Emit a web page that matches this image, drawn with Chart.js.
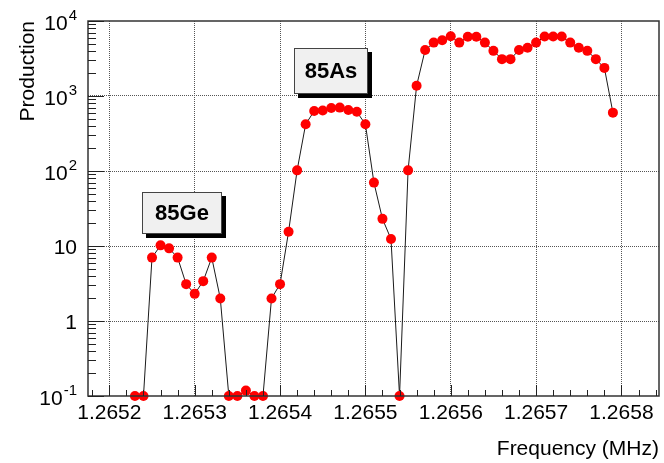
<!DOCTYPE html>
<html>
<head>
<meta charset="utf-8">
<title>Production vs Frequency</title>
<script src="https://cdn.jsdelivr.net/npm/chart.js@4.4.1/dist/chart.umd.min.js"></script>
<style>
  html, body { margin: 0; padding: 0; background: #ffffff; }
  #wrap { position: relative; width: 664px; height: 463px; }
</style>
</head>
<body>
<div id="wrap"><canvas id="chart" width="664" height="463"></canvas></div>
<script>
// Scanned frequencies (MHz), one per measurement step
const frequencies = [
  1.26523, 1.26524, 1.26525, 1.26526, 1.26527, 1.26528, 1.26529, 1.26530,
  1.26531, 1.26532, 1.26533, 1.26534, 1.26535, 1.26536, 1.26537, 1.26538,
  1.26539, 1.26540, 1.26541, 1.26542, 1.26543, 1.26544, 1.26545, 1.26546,
  1.26547, 1.26548, 1.26549, 1.26550, 1.26551, 1.26552, 1.26553, 1.26554,
  1.26555, 1.26556, 1.26557, 1.26558, 1.26559, 1.26560, 1.26561, 1.26562,
  1.26563, 1.26564, 1.26565, 1.26566, 1.26567, 1.26568, 1.26569, 1.26570,
  1.26571, 1.26572, 1.26573, 1.26574, 1.26575, 1.26576, 1.26577, 1.26578,
  1.26579
];

// Measured production at each frequency
const production = [
  0.1, 0.1, 7, 10.2, 9.3, 7, 3.1, 2.3,
  3.4, 7, 2.0, 0.1, 0.1, 0.118, 0.1, 0.1,
  2.0, 3.1, 15.5, 102, 420, 630, 640, 690,
  700, 650, 615, 420, 70, 23, 12.4, 0.1,
  102, 1370, 4100, 5150, 5550, 6250, 5150, 6150,
  6150, 5150, 4000, 3100, 3100, 4100, 4400, 5150,
  6200, 6200, 6200, 5150, 4400, 4000, 3100, 2370,
  600
];

// Axis ticks and their labels
const xMajorTicks = [1.2652, 1.2653, 1.2654, 1.2655, 1.2656, 1.2657, 1.2658];
const xTickLabels = ['1.2652', '1.2653', '1.2654', '1.2655', '1.2656', '1.2657', '1.2658'];
const yMajorTicks = [0.1, 1, 10, 100, 1000, 10000];
const yTickBases = ['10', '1', '10', '10', '10', '10'];
const yTickExponents = ['-1', '', '', '2', '3', '4'];

// Isotope tags
const isotopeNames = ['85Ge', '85As'];

const FONT = "'Liberation Sans', Arial, Helvetica, sans-serif";
const X_MIN = 1.265175, X_MAX = 1.265844;
const X_MINOR_STEP = 0.00002;

function near(a, b, eps) { return Math.abs(a - b) < eps; }

// x ticks every 0.00002 MHz, majors every 0.0001
function buildXTicks() {
  const out = [];
  const first = Math.ceil(X_MIN / X_MINOR_STEP - 1e-6);
  const last = Math.floor(X_MAX / X_MINOR_STEP + 1e-6);
  for (let k = first; k <= last; k++) {
    const v = +(k * X_MINOR_STEP).toFixed(6);
    out.push({ value: v, major: xMajorTicks.some(m => near(m, v, 1e-9)) });
  }
  return out;
}

// log ticks: 1..9 times each decade
function buildYTicks() {
  const out = [];
  for (let d = 0; d < yMajorTicks.length; d++) {
    const dec = yMajorTicks[d];
    out.push({ value: dec, major: true });
    if (d < yMajorTicks.length - 1) {
      for (let m = 2; m <= 9; m++) out.push({ value: +(dec * m).toPrecision(6), major: false });
    }
  }
  return out;
}

const frameAndLabels = {
  id: 'frameAndLabels',
  afterDatasetsDraw(chart, args, opts) {
    const { ctx, chartArea: a, scales } = chart;
    const xs = scales.x, ys = scales.y;
    ctx.save();

    // frame: axes plus top/right border
    ctx.strokeStyle = '#333';
    ctx.lineWidth = 1.5;
    ctx.beginPath();
    ctx.moveTo(a.left, a.top); ctx.lineTo(a.right, a.top);
    ctx.lineTo(a.right, a.bottom); ctx.lineTo(a.left, a.bottom);
    ctx.closePath();
    ctx.stroke();

    // inward tick marks
    ctx.lineWidth = 1;
    ctx.strokeStyle = '#222';
    ctx.beginPath();
    ys.ticks.forEach(t => {
      const y = Math.round(ys.getPixelForValue(t.value)) + 0.5;
      const len = t.major ? 16 : 8;
      ctx.moveTo(a.left, y); ctx.lineTo(a.left + len, y);
    });
    xs.ticks.forEach(t => {
      const x = Math.round(xs.getPixelForValue(t.value)) + 0.5;
      const len = t.major ? 11 : 6;
      ctx.moveTo(x, a.bottom); ctx.lineTo(x, a.bottom - len);
    });
    ctx.stroke();

    // y labels: powers of ten with raised exponents
    const xRight = a.left - 11;
    ctx.fillStyle = '#000';
    yMajorTicks.forEach((v, i) => {
      const y = ys.getPixelForValue(v);
      const base = yTickBases[i], exp = yTickExponents[i];
      if (!exp) {
        ctx.font = '21px ' + FONT;
        ctx.textAlign = 'right';
        ctx.textBaseline = 'alphabetic';
        ctx.fillText(base, xRight, y + 7.5);
      } else {
        ctx.font = '15px ' + FONT;
        const ew = ctx.measureText(exp).width;
        ctx.textAlign = 'right';
        ctx.textBaseline = 'alphabetic';
        ctx.fillText(exp, xRight, y - 1);
        ctx.font = '21px ' + FONT;
        ctx.fillText(base, xRight - ew - 1, y + 9);
      }
    });

    // isotope tags
    opts.tags.forEach((tag, i) => {
      const cx = xs.getPixelForValue(tag.x);
      const cy = ys.getPixelForValue(tag.y);
      const l = Math.round(cx - tag.w / 2), t = Math.round(cy - tag.h / 2);
      ctx.fillStyle = '#000';
      ctx.fillRect(l + 4, t + 4, tag.w, tag.h);
      ctx.fillStyle = '#f0f0f0';
      ctx.fillRect(l, t, tag.w, tag.h);
      ctx.strokeStyle = '#444';
      ctx.lineWidth = 1;
      ctx.strokeRect(l + 0.5, t + 0.5, tag.w - 1, tag.h - 1);
      ctx.fillStyle = '#000';
      ctx.font = 'bold 22px ' + FONT;
      ctx.textAlign = 'center';
      ctx.textBaseline = 'middle';
      ctx.fillText(isotopeNames[i], l + tag.w / 2, t + tag.h / 2 + 1);
    });
    ctx.restore();
  }
};

const points = frequencies.map((f, i) => ({ x: f, y: production[i] }));

new Chart(document.getElementById('chart'), {
  type: 'line',
  data: {
    datasets: [{
      data: points,
      borderColor: '#1a1a1a',
      borderWidth: 1,
      pointRadius: 5,
      pointHoverRadius: 5,
      pointBackgroundColor: '#ff0000',
      pointBorderColor: '#ff0000',
      pointBorderWidth: 0,
      tension: 0,
      fill: false,
      clip: false
    }]
  },
  options: {
    responsive: false,
    animation: false,
    devicePixelRatio: 1,
    events: [],
    layout: { padding: { top: 21, right: 2, left: 0, bottom: 0 } },
    plugins: {
      legend: { display: false },
      tooltip: { enabled: false },
      frameAndLabels: {
        tags: [
          { x: 1.2652856, y: 27.8, w: 80, h: 42 },
          { x: 1.26546, y: 2125, w: 74, h: 46 }
        ]
      }
    },
    scales: {
      x: {
        type: 'linear',
        min: X_MIN,
        max: X_MAX,
        afterBuildTicks(s) { s.ticks = buildXTicks(); },
        afterFit(s) { s.height = 67; },
        ticks: {
          autoSkip: false,
          maxRotation: 0,
          minRotation: 0,
          padding: 5,
          color: '#000',
          font: { family: FONT, size: 21 },
          callback(v) {
            const i = xMajorTicks.findIndex(m => near(m, v, 1e-9));
            return i >= 0 ? xTickLabels[i] : '';
          }
        },
        grid: {
          drawTicks: false,
          lineWidth: 1,
          color: c => (c.tick && c.tick.major ? '#555' : 'rgba(0,0,0,0)')
        },
        border: { display: false, dash: [1, 1] },
        title: {
          display: true,
          text: 'Frequency (MHz)',
          align: 'end',
          color: '#000',
          font: { family: FONT, size: 21 },
          padding: { top: 0, bottom: 1 }
        }
      },
      y: {
        type: 'logarithmic',
        min: 0.1,
        max: 10000,
        afterBuildTicks(s) { s.ticks = buildYTicks(); },
        afterFit(s) { s.width = 88; },
        ticks: { display: false },
        grid: {
          drawTicks: false,
          lineWidth: 1,
          color: c => (c.tick && c.tick.major && c.tick.value > 0.5 && c.tick.value < 5000 ? '#555' : 'rgba(0,0,0,0)')
        },
        border: { display: false, dash: [1, 1] },
        title: {
          display: true,
          text: 'Production',
          align: 'end',
          color: '#000',
          font: { family: FONT, size: 21 },
          padding: { top: 16, bottom: 0 }
        }
      }
    }
  },
  plugins: [frameAndLabels]
});
</script>
</body>
</html>
